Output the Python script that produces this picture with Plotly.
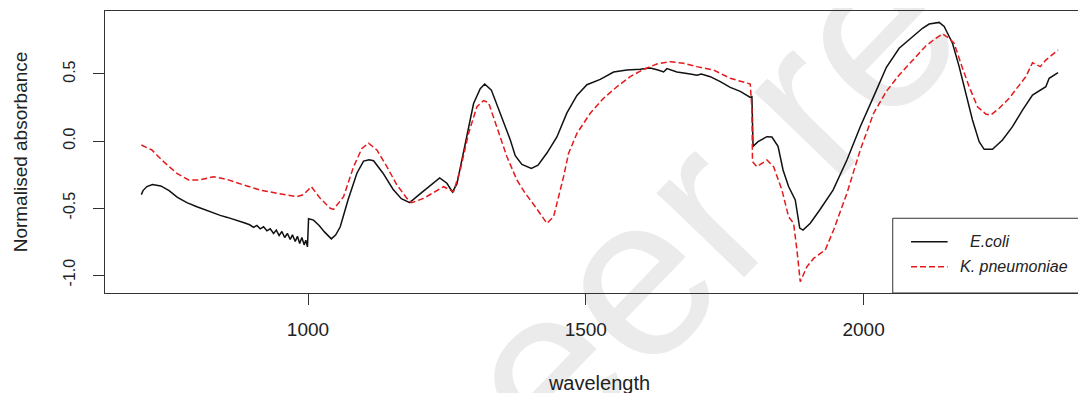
import plotly.graph_objects as go

# E. coli (black, solid)
ecoli_x = [700, 703, 710, 720, 735, 750, 765, 782, 800, 812, 825, 842, 855, 872, 885, 895,
           902, 908, 914, 920, 926, 932, 938, 943, 948, 953, 958, 963, 968, 972, 977, 981,
           985, 989, 993, 996, 999, 1001, 1010, 1020, 1030, 1042, 1050, 1058, 1072, 1088,
           1100, 1110, 1118, 1135, 1153, 1168, 1183, 1200, 1220, 1237, 1250, 1260, 1268,
           1283, 1298, 1310, 1318, 1330, 1346, 1364, 1373, 1385, 1402, 1414, 1430, 1448,
           1466, 1484, 1502, 1526, 1550, 1574, 1598, 1616, 1630, 1640, 1646, 1664, 1688,
           1700, 1708, 1724, 1742, 1760, 1778, 1790, 1796, 1799, 1800, 1801, 1810, 1826,
           1835, 1846, 1855, 1865, 1877, 1885, 1891, 1904, 1921, 1945, 1970, 1994, 2018,
           2041, 2064, 2088, 2106, 2118, 2136, 2145, 2160, 2172, 2184, 2196, 2208, 2217,
           2232, 2250, 2268, 2286, 2304, 2319, 2328, 2334, 2343, 2350]
ecoli_y = [-0.40, -0.37, -0.34, -0.325, -0.335, -0.37, -0.42, -0.46, -0.49, -0.51, -0.53,
           -0.555, -0.57, -0.59, -0.61, -0.625, -0.645, -0.63, -0.655, -0.64, -0.67, -0.655,
           -0.69, -0.665, -0.705, -0.675, -0.72, -0.69, -0.735, -0.70, -0.75, -0.71, -0.765,
           -0.72, -0.775, -0.74, -0.79, -0.58, -0.59, -0.63, -0.68, -0.73, -0.70, -0.64,
           -0.44, -0.24, -0.15, -0.14, -0.147, -0.24, -0.36, -0.43, -0.46, -0.40, -0.33,
           -0.275, -0.315, -0.38, -0.32, -0.02, 0.28, 0.39, 0.425, 0.38, 0.21, 0.01, -0.11,
           -0.175, -0.204, -0.18, -0.09, 0.03, 0.21, 0.34, 0.42, 0.46, 0.515, 0.53, 0.535,
           0.545, 0.53, 0.515, 0.54, 0.515, 0.50, 0.49, 0.50, 0.48, 0.443, 0.40, 0.37, 0.34,
           0.326, 0.33, 0.13, -0.04, -0.005, 0.032, 0.03, -0.04, -0.216, -0.34, -0.44, -0.65,
           -0.665, -0.614, -0.515, -0.366, -0.142, 0.107, 0.331, 0.55, 0.692, 0.778, 0.841,
           0.873, 0.885, 0.855, 0.73, 0.555, 0.356, 0.157, -0.005, -0.062, -0.062, 0.007,
           0.107, 0.231, 0.343, 0.381, 0.405, 0.468, 0.493, 0.51]

# K. pneumoniae (red, dashed)
kp_x = [700, 719, 740, 764, 785, 805, 830, 854, 884, 914, 944, 980, 992, 1000, 1006, 1022,
        1040, 1046, 1064, 1082, 1097, 1109, 1124, 1142, 1160, 1178, 1187, 1208, 1226, 1244,
        1256, 1262, 1274, 1289, 1304, 1316, 1325, 1340, 1358, 1376, 1391, 1409, 1430, 1442,
        1460, 1469, 1484, 1508, 1532, 1556, 1580, 1604, 1628, 1652, 1676, 1700, 1730, 1760,
        1796, 1799, 1800, 1808, 1826, 1838, 1853, 1865, 1874, 1880, 1886, 1898, 1910, 1931,
        1946, 1970, 1994, 2018, 2041, 2064, 2088, 2112, 2130, 2142, 2154, 2163, 2175, 2190,
        2205, 2220, 2229, 2244, 2262, 2280, 2292, 2304, 2318, 2328, 2340, 2350]
kp_y = [-0.03, -0.067, -0.154, -0.241, -0.29, -0.29, -0.266, -0.286, -0.328, -0.366, -0.39,
        -0.415, -0.40, -0.37, -0.341, -0.428, -0.502, -0.51, -0.415, -0.192, -0.055, -0.017,
        -0.067, -0.192, -0.328, -0.428, -0.46, -0.428, -0.386, -0.341, -0.366, -0.378,
        -0.216, 0.057, 0.256, 0.301, 0.286, 0.107, -0.117, -0.291, -0.39, -0.49, -0.614,
        -0.565, -0.266, -0.092, 0.057, 0.207, 0.319, 0.405, 0.48, 0.535, 0.575, 0.592, 0.58,
        0.555, 0.53, 0.468, 0.425, 0.24, -0.154, -0.192, -0.142, -0.192, -0.366, -0.565,
        -0.614, -0.813, -1.05, -0.938, -0.876, -0.813, -0.664, -0.39, -0.067, 0.207, 0.37,
        0.493, 0.604, 0.709, 0.766, 0.799, 0.766, 0.729, 0.58, 0.405, 0.256, 0.201, 0.194,
        0.244, 0.319, 0.418, 0.48, 0.584, 0.555, 0.604, 0.642, 0.679]

x_ticks = [1000, 1500, 2000]
y_ticks = [-1.0, -0.5, 0.0, 0.5]
y_tick_labels = ["-1.0", "-0.5", "0.0", "0.5"]
series_names = ["E.coli", "K. pneumoniae"]

FONT = "Liberation Sans, Arial, Helvetica, sans-serif"
AX = "#333333"
BLACK = "#111111"
RED = "#e31a1c"

fig = go.Figure()
fig.add_trace(go.Scatter(x=ecoli_x, y=ecoli_y, mode="lines", name=series_names[0],
                         line=dict(color=BLACK, width=1.5)))
fig.add_trace(go.Scatter(x=kp_x, y=kp_y, mode="lines", name=series_names[1],
                         line=dict(color=RED, width=1.5, dash="6px,3px")))

# light watermark behind the data
fig.add_shape(type="line", xref="paper", yref="paper",
              x0=0.5884, y0=0.3638, x1=1.0101, y1=1.8934, layer="below",
              line=dict(color="rgba(0,0,0,0)", width=0),
              label=dict(text="peer reviewed", textposition="middle", yanchor="middle",
                         font=dict(size=230, color="#ebebeb", family=FONT)))

# legend box (bottom-right, cut by the right edge)
fig.add_shape(type="rect", xref="paper", yref="paper", x0=0.7965, x1=1.05, y0=0, y1=0.265,
              line=dict(color=AX, width=1), fillcolor="white")
fig.add_shape(type="line", xref="paper", yref="paper", x0=0.815, x1=0.852, y0=0.182, y1=0.182,
              line=dict(color=BLACK, width=1.5))
fig.add_shape(type="line", xref="paper", yref="paper", x0=0.815, x1=0.852, y0=0.0933, y1=0.0933,
              line=dict(color=RED, width=1.5, dash="6px,3px"))
fig.add_annotation(xref="paper", yref="paper", x=0.8723, y=0.182, xanchor="left", yanchor="middle",
                   text="<i>" + series_names[0] + "</i>", showarrow=False,
                   font=dict(size=16, color="#222", family=FONT))
fig.add_annotation(xref="paper", yref="paper", x=0.8622, y=0.0933, xanchor="left", yanchor="middle",
                   text="<i>" + series_names[1] + "</i>", showarrow=False,
                   font=dict(size=16, color="#222", family=FONT))

fig.update_layout(
    width=1086, height=393,
    margin=dict(l=97, r=0, t=3, b=108),
    paper_bgcolor="white", plot_bgcolor="white",
    showlegend=False,
    font=dict(family=FONT, color="#222", size=17),
)
fig.update_xaxes(range=[634.6, 2414.7], tickvals=x_ticks, ticks="outside", ticklen=11,
                 tickcolor=AX, showline=True, linecolor=AX, linewidth=1, mirror=True,
                 showgrid=False, zeroline=False, tickfont=dict(size=19), ticklabelstandoff=8,
                 title=dict(text="wavelength", font=dict(size=20), standoff=37))
fig.update_yaxes(range=[-1.134, 0.970], tickvals=y_ticks, ticktext=y_tick_labels,
                 tickangle=-90, ticks="outside", ticklen=11, tickcolor=AX,
                 showline=True, linecolor=AX, linewidth=1, mirror=False,
                 showgrid=False, zeroline=False, tickfont=dict(size=16), ticklabelstandoff=12,
                 title=dict(text="Normalised absorbance", font=dict(size=19), standoff=27))

fig.write_html("out.html")
